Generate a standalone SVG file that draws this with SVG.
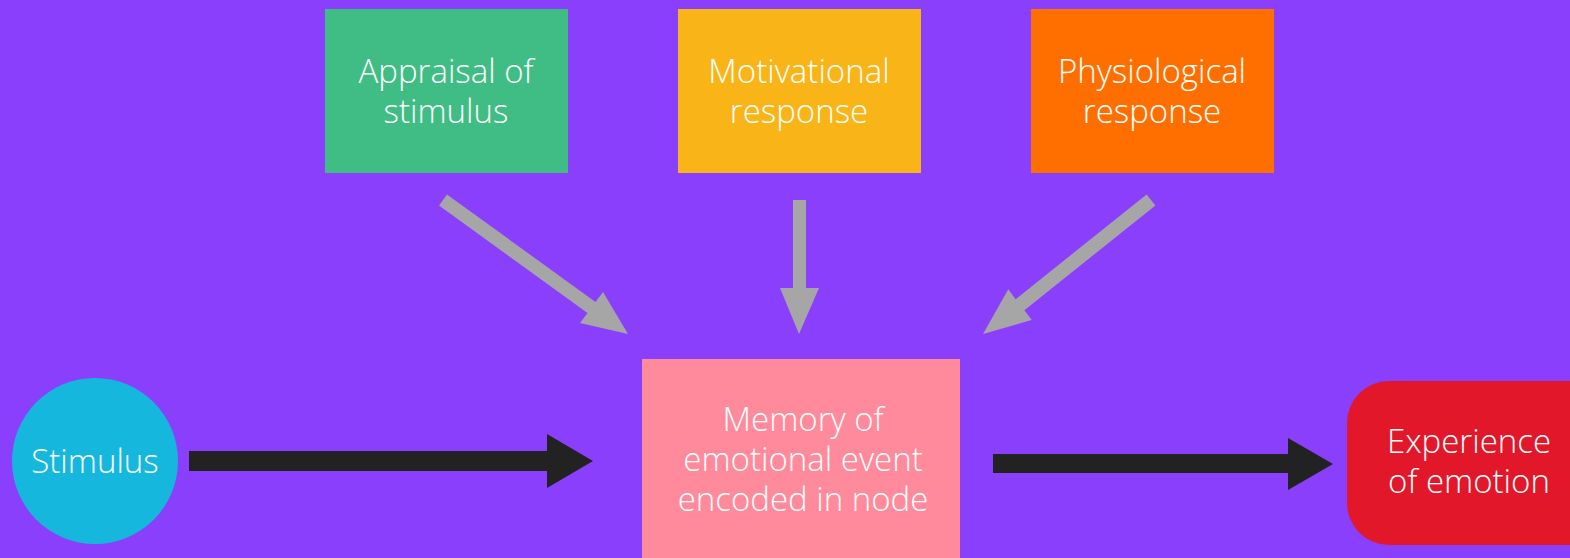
<svg xmlns="http://www.w3.org/2000/svg" width="1570" height="558" viewBox="0 0 1570 558">
  <style>
    .lbl { font-family: "Open Sans", "Liberation Sans", sans-serif; font-weight: 300; font-size: 33px; fill: #ffffff; text-anchor: middle; }
    .grey { fill: #a6a6a6; }
    .black { fill: #222222; }
  </style>
  <rect width="1570" height="558" fill="#8a3ffc"/>

  <g id="connectors">
    <!-- influences feeding the memory node -->
    <polygon class="grey" points="439,205.5 447,194.5 595.5,302 603,292 628,334 580,323 587.5,313"/>
    <rect class="grey" x="793" y="200" width="13" height="90"/>
    <polygon class="grey" points="780,288 819,288 799,334"/>
    <polygon class="grey" points="1155.4,205.5 1146.6,194.5 1015.6,299.2 1008.3,289.3 983,334 1031.7,320 1024.4,310.2"/>
    <!-- main flow -->
    <rect class="black" x="189" y="451" width="360" height="20"/>
    <polygon class="black" points="547,434 593,461 547,488"/>
    <rect class="black" x="993" y="454" width="298" height="19"/>
    <polygon class="black" points="1288,438 1333,464 1288,490"/>
  </g>

  <g id="appraisal">
    <rect x="325" y="9" width="243" height="164" fill="#40bd84"/>
    <text class="lbl" x="446" y="83">Appraisal of</text>
    <text class="lbl" x="446" y="123">stimulus</text>
  </g>
  <g id="motivational">
    <rect x="678" y="9" width="243" height="164" fill="#f9b418"/>
    <text class="lbl" x="799" y="83">Motivational</text>
    <text class="lbl" x="799" y="123">response</text>
  </g>
  <g id="physiological">
    <rect x="1031" y="9" width="243" height="164" fill="#ff6f00"/>
    <text class="lbl" x="1152" y="83">Physiological</text>
    <text class="lbl" x="1152" y="123">response</text>
  </g>
  <g id="memory">
    <rect x="642" y="359" width="318" height="210" fill="#ff8a9c"/>
    <text class="lbl" x="803" y="431">Memory of</text>
    <text class="lbl" x="803" y="471">emotional event</text>
    <text class="lbl" x="803" y="511">encoded in node</text>
  </g>
  <g id="stimulus">
    <circle cx="95" cy="461" r="83" fill="#15b8dc"/>
    <text class="lbl" x="95" y="473">Stimulus</text>
  </g>
  <g id="experience">
    <rect x="1347" y="381" width="263" height="164" rx="42" fill="#e3172a"/>
    <text class="lbl" x="1469" y="453">Experience</text>
    <text class="lbl" x="1469" y="493">of emotion</text>
  </g>
</svg>
